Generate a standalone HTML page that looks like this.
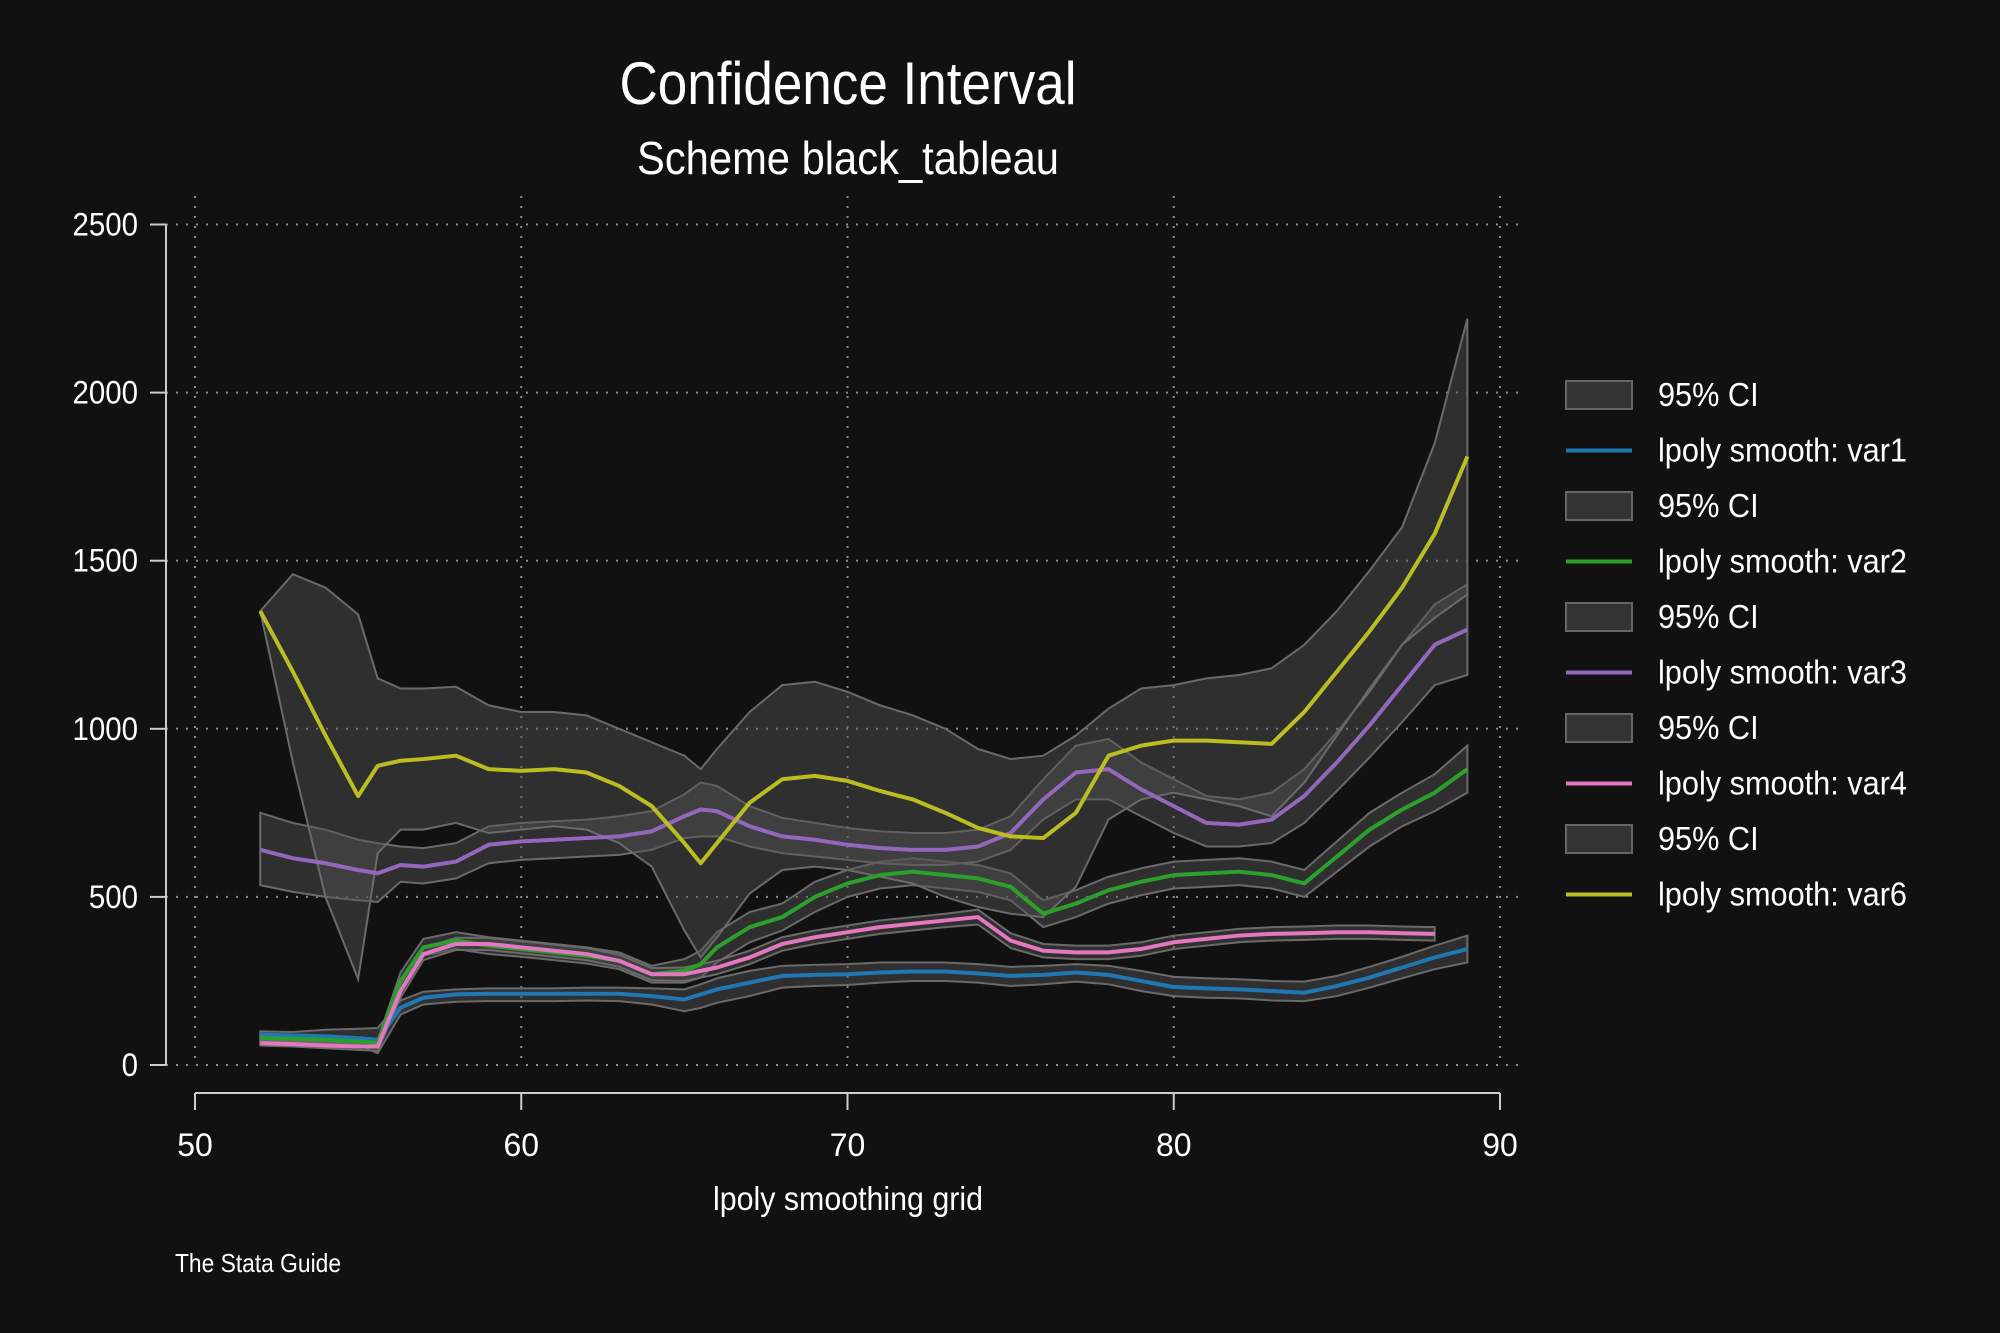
<!DOCTYPE html>
<html><head><meta charset="utf-8"><style>
html,body{margin:0;padding:0;background:#111111;}
svg{display:block;font-family:"Liberation Sans",sans-serif;}
</style></head><body>
<svg id="chart" width="2000" height="1333" viewBox="0 0 2000 1333" xmlns="http://www.w3.org/2000/svg">
<rect width="2000" height="1333" fill="#111111"/>
<text x="848" y="104" fill="#ffffff" font-size="60" text-anchor="middle" textLength="457" lengthAdjust="spacingAndGlyphs">Confidence Interval</text>
<text x="848" y="174" fill="#ffffff" font-size="46" text-anchor="middle" textLength="422" lengthAdjust="spacingAndGlyphs">Scheme black_tableau</text>
<g id="grid"></g>
<g id="bands"></g>
<g id="lines"></g>
<g id="axes"></g>
<g id="legend"></g>
<text x="848" y="1210" fill="#ffffff" font-size="33" text-anchor="middle" textLength="270" lengthAdjust="spacingAndGlyphs">lpoly smoothing grid</text>
<text x="175" y="1272" fill="#ffffff" font-size="26" textLength="166" lengthAdjust="spacingAndGlyphs">The Stata Guide</text>
</svg>
<script>
const grid = [52,53,54,55,55.6,56.3,57,58,59,60,61,62,63,64,65,65.5,66,67,68,69,70,71,72,73,74,75,76,77,78,79,80,81,82,83,84,85,86,87,88,89];
const var1 = [90,88,85,80,75,170,200,210,212,212,212,212,212,205,195,210,225,245,265,268,270,275,278,278,272,265,268,275,268,250,232,228,225,220,215,235,260,290,320,345];
const var1Lo = [78,76,72,60,35,150,180,188,190,190,190,192,190,180,160,170,185,205,230,235,238,245,250,250,245,235,240,248,240,220,205,200,198,192,190,205,230,258,285,305];
const var1Hi = [100,98,105,108,110,192,218,225,228,228,228,230,230,228,225,240,258,280,295,298,300,305,305,305,300,292,295,300,295,280,262,258,255,250,248,265,292,322,355,385];
const var2 = [80,78,75,70,65,250,350,370,355,345,335,325,310,270,280,300,350,410,440,500,540,565,575,565,555,530,450,480,520,545,565,570,575,565,540,620,700,760,810,880];
const var2Lo = [70,68,65,60,55,225,325,345,330,322,312,302,285,245,245,260,305,365,400,455,500,525,535,525,515,490,410,440,480,505,525,530,535,525,500,575,650,710,755,810];
const var2Hi = [90,88,85,80,75,275,375,395,380,370,360,350,335,295,315,340,395,455,480,545,580,605,615,605,595,570,490,520,560,585,605,610,615,605,580,665,750,810,865,950];
const var3 = [640,615,600,580,570,595,590,605,655,665,670,675,680,695,740,760,755,710,680,670,655,645,640,640,650,690,790,870,880,820,770,720,715,730,800,900,1010,1130,1250,1295];
const var3Lo = [535,515,500,490,485,545,540,555,600,610,615,620,625,640,675,680,680,650,630,620,610,600,595,595,605,640,730,790,790,740,690,650,650,660,720,815,915,1020,1130,1160];
const var3Hi = [750,720,700,670,660,650,645,660,710,720,725,730,740,755,805,840,830,770,735,720,705,695,690,690,700,740,850,950,970,900,850,800,790,810,880,990,1110,1250,1370,1430];
const var4 = [65,62,58,55,55,220,330,360,360,350,340,330,310,270,270,280,290,320,360,380,395,410,420,430,440,370,340,335,335,345,365,375,385,390,392,395,395,392,390,null];
const var4Lo = [58,55,50,45,42,200,312,342,342,332,322,312,292,252,250,260,270,300,340,360,375,390,400,410,418,348,320,315,315,325,345,355,365,370,372,375,375,372,370,null];
const var4Hi = [72,70,66,65,68,240,348,378,378,368,358,348,328,288,290,300,310,340,380,400,415,430,440,450,462,392,360,355,355,365,385,395,405,410,412,415,415,412,410,null];
const var6 = [1350,1170,980,800,890,905,910,920,880,875,880,870,830,770,660,600,660,780,850,860,845,815,790,750,705,680,675,750,920,950,965,965,960,955,1050,1170,1290,1420,1580,1810];
const var6Lo = [1350,900,500,255,630,700,700,720,690,700,710,700,660,590,400,320,380,510,580,590,580,560,540,500,470,450,440,530,730,790,810,790,770,740,840,980,1120,1250,1330,1400];
const var6Hi = [1350,1460,1420,1340,1150,1120,1120,1125,1070,1050,1050,1040,1000,960,920,880,940,1050,1130,1140,1110,1070,1040,1000,940,910,920,980,1060,1120,1130,1150,1160,1180,1250,1350,1470,1600,1850,2220];
const yTicks = [0,500,1000,1500,2000,2500];
const xTicks = [50,60,70,80,90];
const legendLabels = ["95% CI","lpoly smooth: var1","95% CI","lpoly smooth: var2","95% CI","lpoly smooth: var3","95% CI","lpoly smooth: var4","95% CI","lpoly smooth: var6"];

const NS="http://www.w3.org/2000/svg";
const sx = x => 195 + (x-50)/40*(1500-195);
const sy = y => 1065 - y/2500*(1065-224.5);
function mk(tag, attrs, parent){const e=document.createElementNS(NS,tag);for(const k in attrs)e.setAttribute(k,attrs[k]);parent.appendChild(e);return e;}
const gGrid=document.getElementById('grid'),gBands=document.getElementById('bands'),gLines=document.getElementById('lines'),gAxes=document.getElementById('axes'),gLeg=document.getElementById('legend');

yTicks.forEach(t=>{
  const l=mk('line',{x1:166,x2:1525,y1:sy(t),y2:sy(t),stroke:'#8a8a8a','stroke-width':2,'stroke-dasharray':'2 8'},gGrid);
  
  
  const tk=mk('line',{x1:150,x2:166,y1:sy(t),y2:sy(t),stroke:'#cccccc','stroke-width':2},gAxes);
  
  
  const tx=mk('text',{x:138,y:sy(t)+11,fill:'#ffffff','font-size':32,'text-anchor':'end',transform:'translate(138 0) scale(0.92 1) translate(-138 0)'},gAxes);
  tx.textContent=t;
  
  
});
xTicks.forEach(t=>{
  const l=mk('line',{x1:sx(t),x2:sx(t),y1:196,y2:1065,stroke:'#8a8a8a','stroke-width':2,'stroke-dasharray':'2 8'},gGrid);
  
  
  const tk=mk('line',{x1:sx(t),x2:sx(t),y1:1093,y2:1110,stroke:'#cccccc','stroke-width':2},gAxes);
  
  
  const tx=mk('text',{x:sx(t),y:1156,fill:'#ffffff','font-size':32,'text-anchor':'middle'},gAxes);
  tx.textContent=t;
  
  
});
const ya=mk('line',{x1:166,x2:166,y1:sy(2500),y2:1065,stroke:'#cccccc','stroke-width':2},gAxes);


const xa=mk('line',{x1:sx(50),x2:sx(90),y1:1093,y2:1093,stroke:'#cccccc','stroke-width':2},gAxes);



function band(lo,hi,name){
  const up=[],dn=[];
  grid.forEach((x,i)=>{if(lo[i]!=null){up.push(sx(x)+','+sy(hi[i]));dn.unshift(sx(x)+','+sy(lo[i]));}});
  const p=mk('polygon',{points:up.concat(dn).join(' '),fill:'rgba(85,85,85,0.45)',stroke:'#6a6a6a','stroke-width':2},gBands);
  
  
}
function line(v,color,name){
  const pts=[];grid.forEach((x,i)=>{if(v[i]!=null)pts.push(sx(x)+','+sy(v[i]));});
  const p=mk('polyline',{points:pts.join(' '),fill:'none',stroke:color,'stroke-width':4,'stroke-linejoin':'round'},gLines);
  
  
}
band(var1Lo,var1Hi,'ci-band-var1');
band(var2Lo,var2Hi,'ci-band-var2');
band(var3Lo,var3Hi,'ci-band-var3');
band(var4Lo,var4Hi,'ci-band-var4');
band(var6Lo,var6Hi,'ci-band-var6');
const colors=['#1f77b4','#2ca02c','#9467bd','#e377c2','#bcbd22'];
line(var1,colors[0],'line-var1');
line(var2,colors[1],'line-var2');
line(var3,colors[2],'line-var3');
line(var4,colors[3],'line-var4');
line(var6,colors[4],'line-var6');

legendLabels.forEach((lab,i)=>{
  const y=395+i*55.5;
  if(i%2===0){
    const r=mk('rect',{x:1566,y:y-14,width:66,height:28,fill:'#333333',stroke:'#666666','stroke-width':2},gLeg);
    
    
  } else {
    const l=mk('line',{x1:1566,x2:1632,y1:y,y2:y,stroke:colors[(i-1)/2],'stroke-width':4},gLeg);
    
    
  }
  const t=mk('text',{x:1658,y:y+11,fill:'#ffffff','font-size':33,transform:'translate(1658 0) scale(0.93 1) translate(-1658 0)'},gLeg);
  t.textContent=lab;
  
  
});
</script>
</body></html>
